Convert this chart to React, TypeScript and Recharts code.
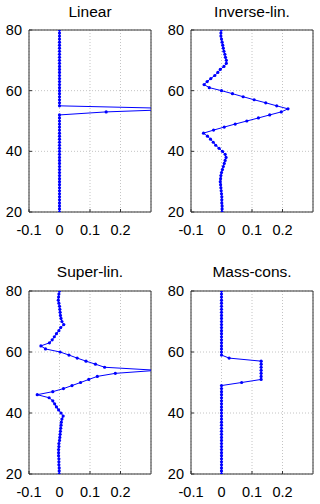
import { CartesianGrid, ReferenceArea, Scatter, ScatterChart, XAxis, YAxis } from 'recharts'

// altitude levels, bottom to top
const ALTITUDES = [
  20, 21, 22, 23, 24, 25, 26, 27, 28, 29,
  30, 31, 32, 33, 34, 35, 36, 37, 38, 39,
  40, 41, 42, 43, 44, 45, 46, 47, 48, 49,
  50, 51, 52, 53, 54, 55, 56, 57, 58, 59,
  60, 61, 62, 63, 64, 65, 66, 67, 68, 69,
  70, 71, 72, 73, 74, 75, 76, 77, 78, 79,
  80,
]

const LINEAR = [
  0, 0, 0, 0, 0, 0, 0, 0, 0, 0,
  0, 0, 0, 0, 0, 0, 0, 0, 0, 0,
  0, 0, 0, 0, 0, 0, 0, 0, 0, 0,
  0, 0, 0, 0.153, 0.43, 0, 0, 0, 0, 0,
  0, 0, 0, 0, 0, 0, 0, 0, 0, 0,
  0, 0, 0, 0, 0, 0, 0, 0, 0, 0,
  0,
]

const INVERSE_LIN = [
  0.002, 0.002, 0.002, 0.001, 0.001, 0.001, 0, -0.001, -0.002, -0.003,
  -0.004, -0.003, -0.002, 0, 0.003, 0.006, 0.009, 0.012, 0.015, 0.012,
  0.003, -0.008, -0.019, -0.027, -0.036, -0.046, -0.059, -0.026, 0.009, 0.045,
  0.083, 0.121, 0.158, 0.196, 0.218, 0.181, 0.145, 0.107, 0.071, 0.036,
  0, -0.04, -0.057, -0.047, -0.035, -0.022, -0.012, -0.004, 0.008, 0.016,
  0.016, 0.013, 0.011, 0.008, 0.006, 0.004, 0.002, 0, -0.002, -0.002,
  -0.001,
]

const SUPER_LIN = [
  -0.001, -0.001, -0.001, -0.002, -0.002, -0.002, -0.003, -0.003, -0.003, -0.002,
  -0.002, 0, 0.001, 0.002, 0.003, 0.004, 0.005, 0.006, 0.008, 0.012,
  0.005, -0.003, -0.01, -0.016, -0.022, -0.034, -0.073, -0.022, 0.013, 0.041,
  0.069, 0.096, 0.124, 0.183, 0.32, 0.148, 0.118, 0.087, 0.058, 0.031,
  0.002, -0.046, -0.061, -0.033, -0.024, -0.017, -0.01, -0.002, 0.004, 0.014,
  0.008, 0.005, 0.003, 0.002, 0.001, 0, -0.002, -0.004, -0.003, -0.002,
  0,
]

const MASS_CONS = [
  0, 0, 0, 0, 0, 0, 0, 0, 0, 0,
  0, 0, 0, 0, 0, 0, 0, 0, 0, 0,
  0, 0, 0, 0, 0, 0, 0, 0, 0, 0,
  0.066, 0.13, 0.13, 0.13, 0.13, 0.13, 0.13, 0.13, 0.025, 0,
  0, 0, 0, 0, 0, 0, 0, 0, 0, 0,
  0, 0, 0, 0, 0, 0, 0, 0, 0, 0,
  0,
]

const TITLES = ['Linear', 'Inverse-lin.', 'Super-lin.', 'Mass-cons.']
const SERIES = [LINEAR, INVERSE_LIN, SUPER_LIN, MASS_CONS]

const X_TICKS = [-0.1, 0, 0.1, 0.2]
const Y_TICKS = [20, 40, 60, 80]

const BLUE = '#0000ff'
const FONT = '"Liberation Sans", Arial, Helvetica, sans-serif'

// page placement of the four panels
const PANELS = [
  { left: 0, top: 0, yw: 29, mr: 9, mt: 30, xh: 40, titleTop: 3.5 },
  { left: 160, top: 0, yw: 31, mr: 7, mt: 30, xh: 40, titleTop: 3.5 },
  { left: 0, top: 252, yw: 29, mr: 9, mt: 39, xh: 30, titleTop: 11.5 },
  { left: 160, top: 252, yw: 31, mr: 7, mt: 39, xh: 30, titleTop: 11.5 },
]

function Dot(props: any) {
  const { cx, cy } = props
  if (cx == null || cy == null) return null
  return <circle cx={cx} cy={cy} r={1.6} fill={BLUE} />
}

function Profile({ values, title, p }: { values: number[]; title: string; p: typeof PANELS[number] }) {
  const data = ALTITUDES.map((alt, i) => ({ alt, v: values[i] }))
  const plotW = 160 - p.yw - p.mr
  return (
    <div style={{ position: 'absolute', left: p.left, top: p.top, width: 160, height: 252 }}>
      <div
        style={{
          position: 'absolute',
          left: p.yw,
          width: plotW,
          top: p.titleTop,
          textAlign: 'center',
          fontSize: 15.5,
          lineHeight: '16px',
          color: '#000',
        }}
      >
        {title}
      </div>
      <ScatterChart width={160} height={252} margin={{ top: p.mt, right: p.mr, bottom: 0, left: 0 }}>
        <CartesianGrid stroke="#c4c4c4" strokeDasharray="1 2" />
        <XAxis
          type="number"
          dataKey="v"
          domain={[-0.1, 0.3]}
          ticks={X_TICKS}
          allowDataOverflow
          height={p.xh}
          axisLine={false}
          tickSize={-3}
          tickMargin={16}
          tickLine={{ stroke: '#333' }}
          tick={{ fontSize: 14.5, fill: '#000' }}
          interval={0}
        />
        <YAxis
          type="number"
          dataKey="alt"
          domain={[20, 80]}
          ticks={Y_TICKS}
          allowDataOverflow
          width={p.yw}
          axisLine={false}
          tickSize={-3}
          tickMargin={10}
          tickLine={{ stroke: '#333' }}
          tick={{ fontSize: 14.5, fill: '#000' }}
          interval={0}
        />
        <ReferenceArea x1={-0.1} x2={0.3} y1={20} y2={80} fill="none" stroke="#333" strokeWidth={1} />
        <Scatter
          data={data}
          fill={BLUE}
          line={{ stroke: BLUE, strokeWidth: 1 }}
          lineType="joint"
          shape={Dot}
          isAnimationActive={false}
        />
      </ScatterChart>
    </div>
  )
}

export default function App() {
  return (
    <div
      style={{
        position: 'absolute',
        left: 0,
        top: 0,
        width: 320,
        height: 504,
        background: '#fff',
        fontFamily: FONT,
      }}
    >
      {SERIES.map((values, i) => (
        <Profile key={TITLES[i]} values={values} title={TITLES[i]} p={PANELS[i]} />
      ))}
    </div>
  )
}
